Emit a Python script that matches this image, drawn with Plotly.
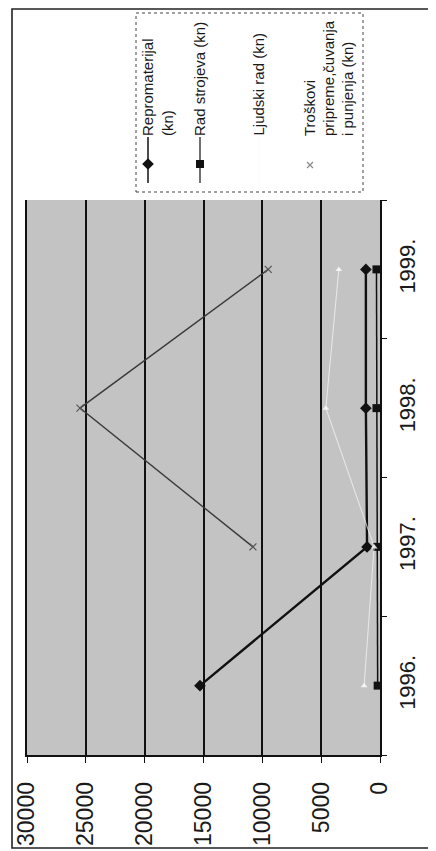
import plotly.graph_objects as go

# ---- data ----
years = ["1996.", "1997.", "1998.", "1999."]
repromaterijal = [15300, 1100, 1200, 1200]
rad_strojeva = [200, 250, 300, 300]
ljudski_rad = [1350, 500, 4600, 3500]
troskovi = [None, 10800, 25500, 9500]
value_ticks = [0, 5000, 10000, 15000, 20000, 25000, 30000]

# page is shown with the default 8px body margin, so the figure is laid out
# in page pixels and shifted by that offset
OFF = 8
W, H = 436 - OFF, 851 - OFF
FONT = "Arial, Liberation Sans, sans-serif"


def px(xp):
    return (xp - OFF) / W


def py(yp):
    return 1 - (yp - OFF) / H


fig = go.Figure()

fig.add_trace(go.Scatter(
    x=repromaterijal, y=years, mode="lines+markers", name="Repromaterijal (kn)",
    line=dict(color="#111111", width=2.4),
    marker=dict(symbol="diamond", size=9, color="#111111"),
    xaxis="x", yaxis="y", showlegend=False))
fig.add_trace(go.Scatter(
    x=rad_strojeva, y=years, mode="lines+markers", name="Rad strojeva (kn)",
    line=dict(color="#111111", width=1.5),
    marker=dict(symbol="square", size=8, color="#111111"),
    xaxis="x", yaxis="y", showlegend=False))
fig.add_trace(go.Scatter(
    x=ljudski_rad, y=years, mode="lines+markers", name="Ljudski rad (kn)",
    line=dict(color="rgba(245,245,245,0.7)", width=1.1),
    marker=dict(symbol="triangle-up", size=6, color="rgba(250,250,250,0.85)"),
    xaxis="x", yaxis="y", showlegend=False))
fig.add_trace(go.Scatter(
    x=troskovi, y=years, mode="lines+markers", name="Troškovi pripreme, čuvanja i punjenja (kn)",
    line=dict(color="#3a3a3a", width=1.4),
    marker=dict(symbol="x-thin-open", size=7, color="#555555", line=dict(width=1.2, color="#555555")),
    xaxis="x", yaxis="y", showlegend=False))

# ---- legend samples (separate invisible axes covering the legend box) ----
leg_line_y = [124, 170]
fig.add_trace(go.Scatter(x=[12, 12], y=leg_line_y, mode="lines", line=dict(color="#111111", width=1.5),
                         xaxis="x2", yaxis="y2", showlegend=False, hoverinfo="skip"))
fig.add_trace(go.Scatter(x=[12], y=[151], mode="markers", marker=dict(symbol="diamond", size=9, color="#111111"),
                         xaxis="x2", yaxis="y2", showlegend=False, hoverinfo="skip"))
fig.add_trace(go.Scatter(x=[64, 64], y=leg_line_y, mode="lines", line=dict(color="#111111", width=1.2),
                         xaxis="x2", yaxis="y2", showlegend=False, hoverinfo="skip"))
fig.add_trace(go.Scatter(x=[64], y=[151], mode="markers", marker=dict(symbol="square", size=8, color="#111111"),
                         xaxis="x2", yaxis="y2", showlegend=False, hoverinfo="skip"))
fig.add_trace(go.Scatter(x=[123, 123], y=leg_line_y, mode="lines", line=dict(color="#fafafa", width=1.2),
                         xaxis="x2", yaxis="y2", showlegend=False, hoverinfo="skip"))
fig.add_trace(go.Scatter(x=[174], y=[152], mode="markers",
                         marker=dict(symbol="x-thin-open", size=6, color="#888888", line=dict(width=1.2, color="#888888")),
                         xaxis="x2", yaxis="y2", showlegend=False, hoverinfo="skip"))

LB_X0, LB_X1, LB_Y0, LB_Y1 = 136, 363, 13, 192

fig.update_layout(
    width=W, height=H,
    margin=dict(l=0, r=0, t=0, b=0),
    paper_bgcolor="white", plot_bgcolor="rgba(0,0,0,0)",
    font=dict(family=FONT, color="#1a1a1a"),
    xaxis=dict(
        domain=[px(27), px(380)], range=[30000, 0], anchor="y",
        tickvals=value_ticks, ticktext=[str(v) for v in value_ticks],
        tickangle=-90, tickfont=dict(size=23, family=FONT, color="#1a1a1a"),
        showgrid=True, gridcolor="#111111", gridwidth=1.5,
        showline=True, linecolor="#111111", linewidth=1.6,
        ticks="outside", ticklen=6, tickcolor="#111111", tickwidth=1.2,
        ticklabelstandoff=10, zeroline=False, automargin=False, fixedrange=True),
    yaxis=dict(
        domain=[py(755), py(200)], type="category", categoryorder="array", categoryarray=years,
        range=[-0.5, 3.5], anchor="x", side="right",
        tickangle=-90, tickfont=dict(size=22, family=FONT, color="#1a1a1a"),
        showgrid=False, showline=True, mirror=True, linecolor="#111111", linewidth=1.6,
        ticks="outside", tickson="boundaries", ticklen=5, tickcolor="#111111",
        ticklabelstandoff=7, zeroline=False, automargin=False, fixedrange=True),
    xaxis2=dict(domain=[px(LB_X0), px(LB_X1)], range=[0, LB_X1 - LB_X0], anchor="y2",
                visible=False, fixedrange=True),
    yaxis2=dict(domain=[py(LB_Y1), py(LB_Y0)], range=[LB_Y1 - LB_Y0, 0], anchor="x2",
                visible=False, fixedrange=True),
)

shapes = [
    # plot area background
    dict(type="rect", xref="x domain", yref="y domain", x0=0, x1=1, y0=0, y1=1,
         fillcolor="#c3c3c3", line=dict(width=0), layer="below"),
    # legend box
    dict(type="rect", xref="x2 domain", yref="y2 domain", x0=0, x1=1, y0=0, y1=1,
         fillcolor="white", line=dict(color="#444444", width=1, dash="dot"), layer="below"),
    # outer frame (right edge is cut off)
    dict(type="rect", xref="paper", yref="paper", x0=px(12), x1=1.02, y0=py(848), y1=py(9),
         line=dict(color="#222222", width=1.6), fillcolor="rgba(0,0,0,0)"),
]
fig.update_layout(shapes=shapes)

leg_lines = [
    ("Repromaterijal", 148),
    ("(kn)", 168),
    ("Rad strojeva (kn)", 200),
    ("Ljudski rad (kn)", 258),
    ("Troškovi", 310),
    ("pripreme,čuvanja", 329),
    ("i punjenja (kn)", 348),
]
anns = []
for txt, xc in leg_lines:
    anns.append(dict(text=txt, x=px(xc), y=py(138), xref="paper", yref="paper",
                     xanchor="center", yanchor="bottom", textangle=-90, showarrow=False,
                     font=dict(size=15, family=FONT, color="#1a1a1a")))
fig.update_layout(annotations=anns)

fig.write_html("out.html")
